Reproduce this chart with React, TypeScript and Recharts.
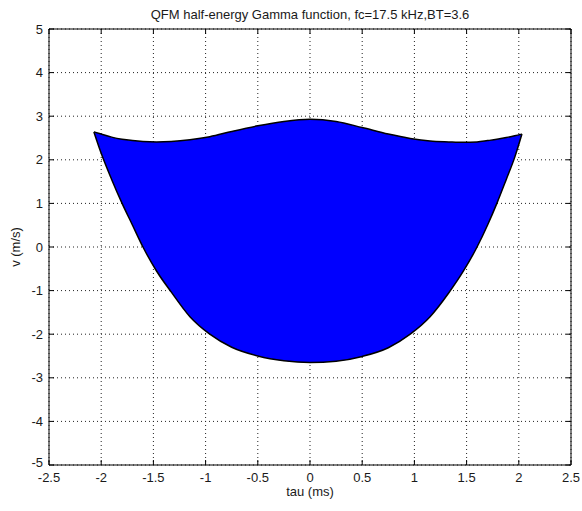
import React from 'react'
import {
  ComposedChart,
  Area,
  XAxis,
  YAxis,
  CartesianGrid,
  ReferenceArea,
} from 'recharts'

// tau (ms) sample positions
const tau = [
  -2.07, -2.0, -1.9, -1.8, -1.7, -1.6, -1.47, -1.33, -1.15, -0.96, -0.75, -0.5, -0.25, 0,
  0.25, 0.5, 0.75, 0.96, 1.15, 1.33, 1.47, 1.6, 1.7, 1.79, 1.88, 1.96, 2.03,
]
// upper edge of the half-energy region (m/s)
const vUpper = [
  2.64, 2.59, 2.52, 2.47, 2.44, 2.42, 2.41, 2.42, 2.46, 2.53, 2.65, 2.78, 2.88, 2.93,
  2.88, 2.74, 2.59, 2.49, 2.43, 2.41, 2.4, 2.41, 2.44, 2.47, 2.51, 2.55, 2.59,
]
// lower edge (m/s)
const vLower = [
  2.64, 2.15, 1.55, 1.0, 0.5, 0.0, -0.55, -1.03, -1.6, -2.0, -2.3, -2.5, -2.61, -2.65,
  -2.62, -2.51, -2.31, -2.0, -1.6, -1.05, -0.55, 0.0, 0.5, 1.0, 1.55, 2.05, 2.59,
]

const xTicks = [-2.5, -2, -1.5, -1, -0.5, 0, 0.5, 1, 1.5, 2, 2.5]
const yTicks = [-5, -4, -3, -2, -1, 0, 1, 2, 3, 4, 5]

const FONT = '"Liberation Sans", Arial, sans-serif'
const TXT = '#1a1a1a'
const TICK_LEN = 5
const GAP = 7

type Side = 'bottom' | 'top' | 'left' | 'right'

const makeTick = (side: Side) => (props: any) => {
  const { x, y, payload } = props
  let line
  let label = null
  if (side === 'bottom') {
    const ay = y - GAP
    line = <line x1={x} y1={ay} x2={x} y2={ay - TICK_LEN} stroke="#000" />
    label = (
      <text x={x} y={y} dy="0.75em" textAnchor="middle" fill={TXT} fontSize={13} fontFamily={FONT}>
        {String(payload.value)}
      </text>
    )
  } else if (side === 'left') {
    const ax = x + GAP
    line = <line x1={ax} y1={y} x2={ax + TICK_LEN} y2={y} stroke="#000" />
    // MATLAB lifts the lowest label a little so it clears the x labels
    const dy = payload.value === -5 ? '0.15em' : '0.36em'
    label = (
      <text x={x + 1} y={y} dy={dy} textAnchor="end" fill={TXT} fontSize={13} fontFamily={FONT}>
        {String(payload.value)}
      </text>
    )
  } else if (side === 'top') {
    line = <line x1={x} y1={y} x2={x} y2={y + TICK_LEN} stroke="#000" />
  } else {
    line = <line x1={x} y1={y} x2={x - TICK_LEN} y2={y} stroke="#000" />
  }
  return (
    <g>
      {line}
      {label}
    </g>
  )
}

export default function App() {
  const data = tau.map((t, i) => ({ tau: t, v: [vLower[i], vUpper[i]] }))

  return (
    <div style={{ position: 'absolute', left: 0, top: 0, width: 582, height: 511, background: '#fff' }}>
      <ComposedChart
        width={582}
        height={511}
        data={data}
        margin={{ top: 28, right: 10, bottom: 0, left: 0 }}
      >
        <XAxis
          xAxisId="b"
          dataKey="tau"
          type="number"
          domain={[-2.5, 2.5]}
          ticks={xTicks}
          allowDataOverflow
          height={46}
          axisLine={false}
          tickLine={false}
          tickSize={0}
          tickMargin={GAP}
          interval={0}
          tick={makeTick('bottom')}
          label={{
            value: 'tau (ms)',
            position: 'insideBottom',
            offset: 15,
            fill: TXT,
            fontSize: 13,
            fontFamily: FONT,
          }}
        />
        <XAxis
          xAxisId="t"
          orientation="top"
          dataKey="tau"
          type="number"
          domain={[-2.5, 2.5]}
          ticks={xTicks}
          allowDataOverflow
          height={1}
          axisLine={false}
          tickLine={false}
          tickSize={0}
          tickMargin={0}
          interval={0}
          tick={makeTick('top')}
          label={{
            value: 'QFM half-energy Gamma function, fc=17.5 kHz,BT=3.6',
            position: 'top',
            offset: 9,
            fill: TXT,
            fontSize: 13,
            fontFamily: FONT,
          }}
        />
        <YAxis
          yAxisId="l"
          type="number"
          domain={[-5, 5]}
          ticks={yTicks}
          allowDataOverflow
          width={49}
          axisLine={false}
          tickLine={false}
          tickSize={0}
          tickMargin={GAP}
          interval={0}
          tick={makeTick('left')}
          label={{
            value: 'v (m/s)',
            angle: -90,
            position: 'insideLeft',
            offset: 15,
            fill: TXT,
            fontSize: 13,
            fontFamily: FONT,
            style: { textAnchor: 'middle' },
          }}
        />
        <YAxis
          yAxisId="r"
          orientation="right"
          type="number"
          domain={[-5, 5]}
          ticks={yTicks}
          allowDataOverflow
          width={1}
          axisLine={false}
          tickLine={false}
          tickSize={0}
          tickMargin={0}
          interval={0}
          tick={makeTick('right')}
        />
        <CartesianGrid
          xAxisId="b"
          yAxisId="l"
          stroke="#222"
          strokeDasharray="1 3"
          fill="#fff"
        />
        <Area
          xAxisId="b"
          yAxisId="l"
          type="monotone"
          dataKey="v"
          fill="#0000ff"
          fillOpacity={1}
          stroke="#000"
          strokeWidth={1.5}
          isAnimationActive={false}
        />
        <ReferenceArea
          xAxisId="b"
          yAxisId="l"
          x1={-2.5}
          x2={2.5}
          y1={-5}
          y2={5}
          fill="none"
          stroke="#000"
          strokeWidth={1}
          ifOverflow="visible"
        />
      </ComposedChart>
    </div>
  )
}
